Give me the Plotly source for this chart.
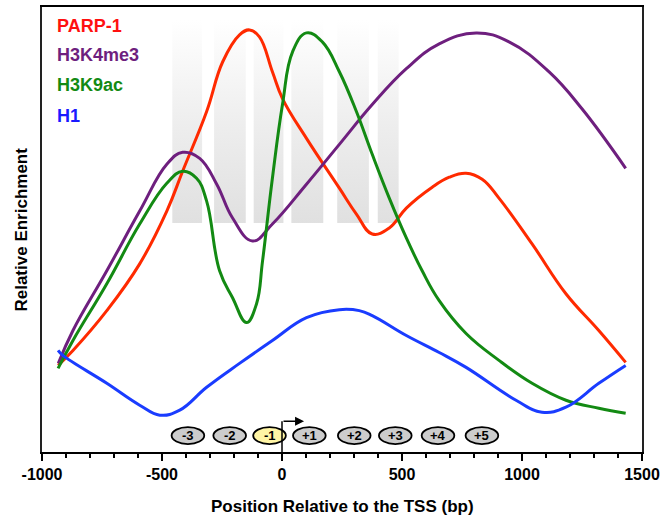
import plotly.graph_objects as go

# ---- data (position in bp, relative enrichment in arbitrary units) ----
parp_x = [-933, -871, -730, -593, -480, -414, -314, -247, -177, -135, -94, -40, 2, 102, 239, 310, 376, 447, 518, 626, 697, 767, 834, 904, 1042, 1183, 1320, 1432]
parp_y = [87, 102, 142, 189, 242, 282, 342, 392, 419, 424, 417, 382, 355, 315, 265, 239, 219, 225, 245, 266, 276, 280, 274, 255, 209, 159, 122, 90]

k4_x = [-932, -871, -730, -593, -480, -414, -343, -272, -206, -123, -40, 102, 239, 376, 518, 655, 809, 946, 1112, 1249, 1432]
k4_y = [89, 122, 182, 242, 289, 301, 295, 269, 235, 212, 229, 269, 309, 349, 385, 410, 421, 412, 382, 345, 285]

k9_x = [-933, -871, -730, -593, -480, -414, -356, -314, -260, -206, -148, -106, -81, -40, 2, 44, 102, 168, 239, 310, 376, 447, 518, 584, 655, 767, 904, 1042, 1183, 1320, 1432]
k9_y = [84, 112, 169, 229, 270, 282, 275, 252, 182, 155, 130, 149, 192, 275, 349, 402, 421, 412, 382, 342, 299, 255, 215, 182, 152, 119, 92, 69, 52, 44, 39]

h1_x = [-933, -913, -730, -593, -509, -426, -314, -177, -40, 102, 239, 322, 376, 518, 655, 767, 975, 1083, 1183, 1320, 1432]
h1_y = [102, 97, 69, 47, 37, 42, 65, 89, 112, 135, 143, 142, 137, 117, 100, 85, 52, 40, 45, 69, 87]

series_names = ["PARP-1", "H3K4me3", "H3K9ac", "H1"]
series_colors = ["#ff2a00", "#6e1f7e", "#138a13", "#1a3cff"]
legend_colors = ["#ff1010", "#6e1f7e", "#138a13", "#1a1aff"]

# shaded nucleosome-occupancy bands (bp)
band_start = [-457, -283, -118, 39, 230, 399]
band_end = [-333, -151, 6, 172, 362, 486]
band_low, band_high = 230, 434

# nucleosome positions (bp centres) and labels
nuc_center = [-392, -218, -52, 114, 301, 472, 650, 833]
nuc_labels = ["-3", "-2", "-1", "+1", "+2", "+3", "+4", "+5"]
nuc_fill = ["#cccccc", "#cccccc", "#fff5a5", "#cccccc", "#cccccc", "#cccccc", "#cccccc", "#cccccc"]

tick_vals = [-1000, -500, 0, 500, 1000, 1500]

FONT = "Liberation Sans, Arial, Helvetica, sans-serif"

fig = go.Figure()

for s, e in zip(band_start, band_end):
    fig.add_trace(go.Scatter(
        x=[s, e, e, s, s], y=[band_low, band_low, band_high, band_high, band_low],
        mode="lines", line=dict(width=0), fill="toself",
        fillgradient=dict(type="vertical", start=band_low, stop=band_high,
                          colorscale=[[0, "#e0e0e0"], [0.5, "#eeeeee"], [1, "#ffffff"]]),
        hoverinfo="skip", showlegend=False))

for xs, ys, name, col in zip([parp_x, k4_x, k9_x, h1_x], [parp_y, k4_y, k9_y, h1_y],
                             series_names, series_colors):
    fig.add_trace(go.Scatter(x=xs, y=ys, mode="lines", name=name,
                             line=dict(color=col, width=3, shape="spline", smoothing=1.2),
                             showlegend=False))

# nucleosome ellipses
for c, lab, fc in zip(nuc_center, nuc_labels, nuc_fill):
    fig.add_shape(type="circle", xref="x", yref="y", x0=c - 68, x1=c + 68, y0=8, y1=25,
                  fillcolor=fc, line=dict(color="black", width=1.8))
    fig.add_annotation(x=c, y=16.5, xref="x", yref="y", text="<b>" + lab + "</b>",
                       showarrow=False, font=dict(family=FONT, size=13, color="black"))

# TSS bent arrow
fig.add_shape(type="line", xref="x", yref="y", x0=0, x1=0, y0=0, y1=31,
              line=dict(color="black", width=1.5))
fig.add_annotation(x=92, y=31, ax=0, ay=31, xref="x", yref="y", axref="x", ayref="y",
                   text="", showarrow=True, arrowhead=2, arrowsize=1.2, arrowwidth=1.5,
                   arrowcolor="black")

# legend as coloured text
leg_y = [24, 53, 83, 114]
for name, col, yp in zip(series_names, legend_colors, leg_y):
    fig.add_annotation(xref="paper", yref="paper", x=(55 - 42) / 601, y=1 - (yp - 5) / 447,
                       xanchor="left", yanchor="middle", showarrow=False,
                       text="<b>" + name + "</b>", font=dict(family=FONT, size=18, color=col))

# axis titles
fig.add_annotation(xref="paper", yref="paper", x=(21 - 42) / 601, y=0.5, textangle=-90,
                   xanchor="center", yanchor="middle",
                   showarrow=False, text="<b>Relative Enrichment</b>",
                   font=dict(family=FONT, size=17, color="black"))
fig.add_annotation(xref="paper", yref="paper", x=(343 - 42) / 601, y=-(507 - 452) / 447,
                   xanchor="center", yanchor="middle",
                   showarrow=False, text="<b>Position Relative to the TSS (bp)</b>",
                   font=dict(family=FONT, size=17, color="black"))

fig.update_layout(
    width=665, height=520,
    margin=dict(l=42, r=22, t=5, b=68),
    paper_bgcolor="white", plot_bgcolor="white",
    font=dict(family=FONT),
    xaxis=dict(range=[-1000, 1500], tickvals=tick_vals,
               ticktext=["<b>%d</b>" % v for v in tick_vals],
               ticks="outside", ticklen=7, tickwidth=2, tickcolor="black",
               tickfont=dict(family=FONT, size=16, color="black"),
               showline=True, linecolor="black", linewidth=2, mirror=True,
               showgrid=False, zeroline=False,
               minor=dict(dtick=100, ticks="outside", ticklen=4, tickwidth=1.5, tickcolor="black")),
    yaxis=dict(range=[0, 447], showticklabels=False, ticks="",
               showline=True, linecolor="#222222", linewidth=2, mirror=True,
               showgrid=False, zeroline=False),
)

fig.write_html("out.html", config={"displayModeBar": False},
               post_script="document.body.style.margin='0px';")
